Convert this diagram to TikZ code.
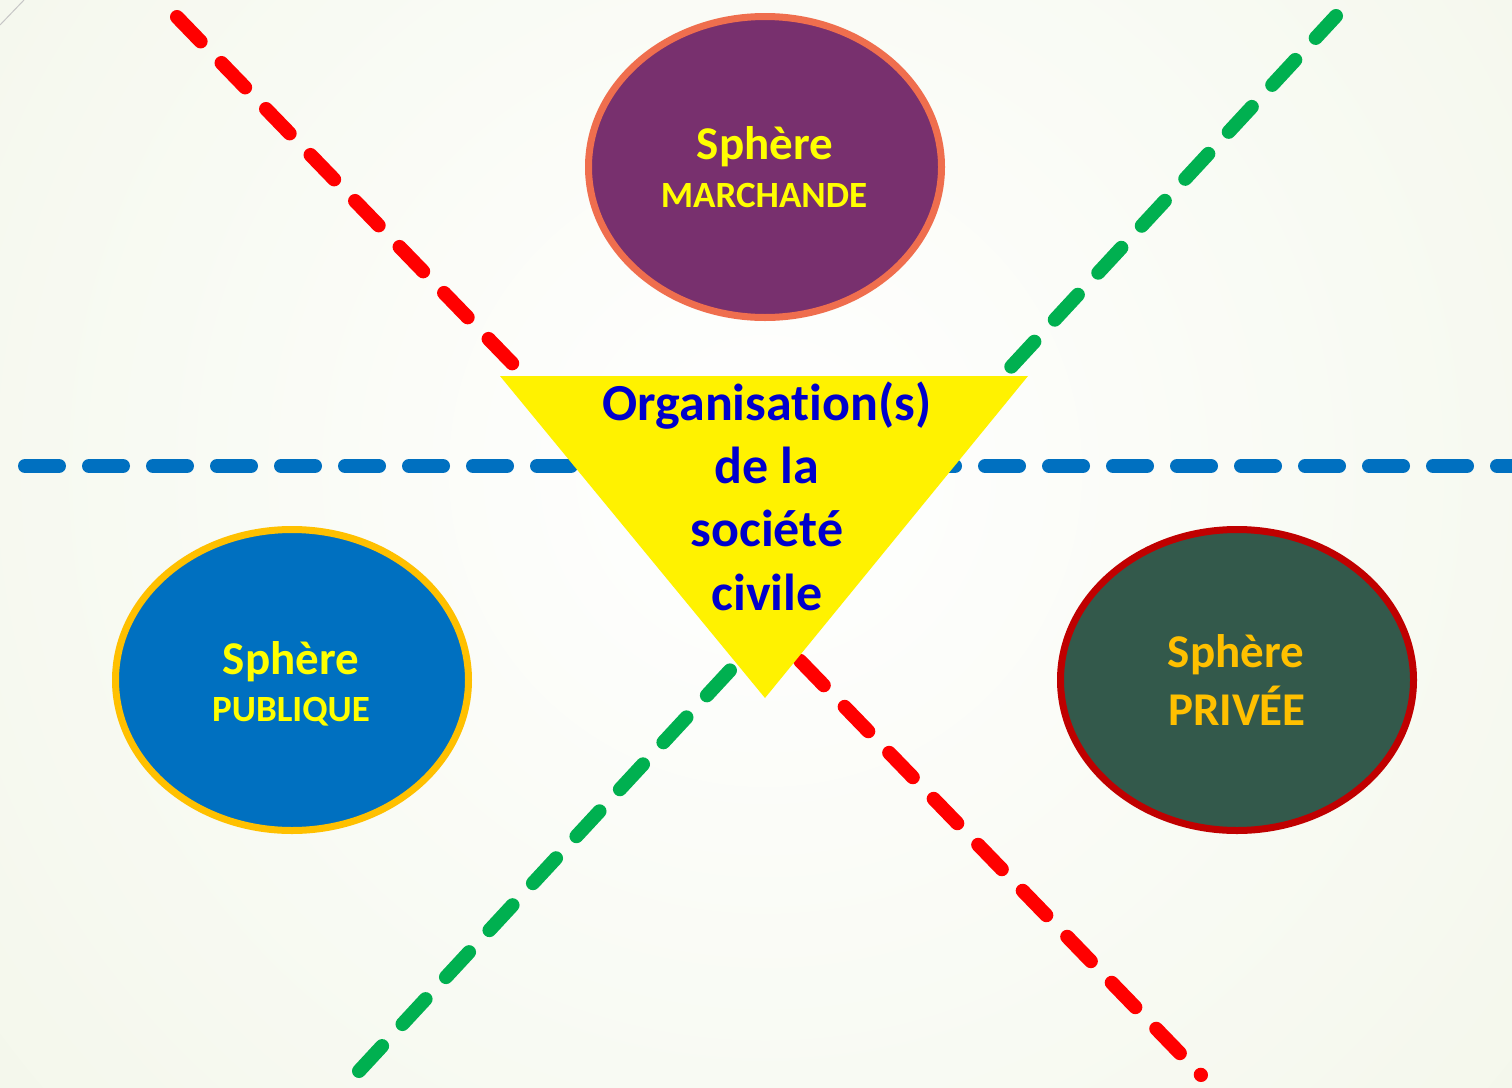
\documentclass[tikz,border=0pt]{standalone}
\usepackage{fontspec}
\setmainfont{Carlito}[Ligatures={NoCommon}]
\usetikzlibrary{shapes.geometric}
\definecolor{bgouter}{HTML}{EAF0DA}
\definecolor{purplefill}{HTML}{78306E}
\definecolor{purpleedge}{HTML}{EF6E4E}
\definecolor{bluefill}{HTML}{0070C0}
\definecolor{goldedge}{HTML}{FFC000}
\definecolor{greenfill}{HTML}{33594B}
\definecolor{darkred}{HTML}{C00000}
\definecolor{linered}{HTML}{FF0000}
\definecolor{linegreen}{HTML}{00B050}
\definecolor{lineblue}{HTML}{0070C0}
\definecolor{textblue}{HTML}{0000CC}
\definecolor{txtyellow}{HTML}{FFFF00}
\tikzset{
  sep/.style={line width=14pt, line cap=round, dash pattern=on 34pt off 30pt},
  sphere/.style={ellipse, line width=7pt, inner sep=0pt, minimum width=353pt, minimum height=301pt},
  lbl/.style={anchor=base, inner sep=0pt, font=\bfseries}
}
\begin{document}
\begin{tikzpicture}[x=1pt,y=-1pt]
\useasboundingbox (0,0) rectangle (1512,1087);
\begin{scope}
\clip (0,0) rectangle (1512,1087);
\fill[bgouter] (0,0) rectangle (1512,1087);
\shade[inner color=white, outer color=bgouter] (765,470) circle (1900);
\end{scope}
\draw[gray!45, line width=1pt] (0,25) -- (24,0);
% separator lines
\coordinate (r1) at (177,17);
\coordinate (r2) at (1201,1075);
\coordinate (g1) at (359,1071);
\coordinate (g2) at (1336,16);
\coordinate (b1) at (25,466);
\coordinate (b2) at (1530,466);
\draw[sep, linered] (r1) -- (r2);
\draw[sep, linegreen] (g1) -- (g2);
\draw[sep, lineblue] (b1) -- (b2);
% spheres
\node[sphere, draw=purpleedge, fill=purplefill] (march) at (765,167) {};
\node[sphere, draw=goldedge, fill=bluefill] (publ) at (292,680) {};
\node[sphere, draw=darkred, fill=greenfill] (priv) at (1237,680) {};
% triangle
\coordinate (t1) at (500,376);
\coordinate (t2) at (1028,376);
\coordinate (t3) at (765,698);
\fill[yellow] (t1) -- (t2) -- (t3) -- cycle;
% texts
\node[lbl, text=txtyellow, font=\bfseries\fontsize{47}{56}\selectfont] (m1) at (765,159) {Sphère};
\node[lbl, text=txtyellow, font=\bfseries\fontsize{37}{44}\selectfont] (m2) at (764,207) {MARCHANDE};
\node[lbl, text=txtyellow, font=\bfseries\fontsize{47}{56}\selectfont] (p1) at (291,674) {Sphère};
\node[lbl, text=txtyellow, font=\bfseries\fontsize{37}{44}\selectfont] (p2) at (291,721) {PUBLIQUE};
\node[lbl, text=goldedge, font=\bfseries\fontsize{47}{56}\selectfont] (v1) at (1236,667) {Sphère};
\node[lbl, text=goldedge, font=\bfseries\fontsize{47}{56}\selectfont] (v2) at (1237,725) {PRIVÉE};
\node[lbl, text=textblue, font=\bfseries\fontsize{52}{62}\selectfont] (o1) at (767,420) {Organisation(s)};
\node[lbl, text=textblue, font=\bfseries\fontsize{52}{62}\selectfont] (o2) at (767,483) {de la};
\node[lbl, text=textblue, font=\bfseries\fontsize{52}{62}\selectfont] (o3) at (767,546) {société};
\node[lbl, text=textblue, font=\bfseries\fontsize{52}{62}\selectfont] (o4) at (767,610) {civile};
\end{tikzpicture}
\end{document}
